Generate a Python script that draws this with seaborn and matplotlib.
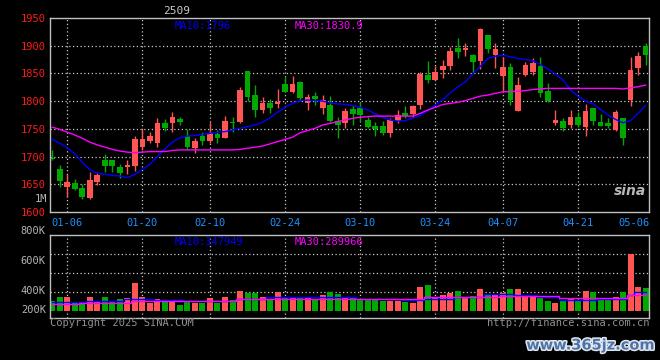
import pandas as pd
import seaborn as sns
import matplotlib.pyplot as plt
import matplotlib.patheffects as pe

# daily K line, 80 sessions (2025-01-02 .. 2025-05-07)
opens = [1698, 1677, 1645, 1652, 1643, 1625, 1655, 1693, 1693, 1682,
         1681, 1683, 1717, 1728, 1725, 1761, 1761, 1768, 1737, 1716,
         1737, 1728, 1740, 1733, 1763, 1762, 1854, 1811, 1784, 1796,
         1794, 1831, 1817, 1835, 1796, 1809, 1788, 1793, 1764, 1760,
         1785, 1788, 1766, 1756, 1755, 1742, 1764, 1779, 1777, 1793,
         1848, 1839, 1856, 1864, 1896, 1892, 1884, 1873, 1919, 1883,
         1845, 1862, 1783, 1847, 1853, 1864, 1818, 1760, 1764, 1757,
         1772, 1754, 1788, 1762, 1760, 1748, 1769, 1802, 1860, 1899]
highs = [1711, 1685, 1669, 1659, 1651, 1673, 1672, 1704, 1693, 1686,
         1693, 1738, 1749, 1744, 1769, 1768, 1780, 1772, 1750, 1733,
         1745, 1762, 1748, 1774, 1772, 1826, 1854, 1829, 1808, 1804,
         1822, 1844, 1846, 1836, 1812, 1816, 1811, 1809, 1772, 1788,
         1793, 1798, 1772, 1762, 1764, 1770, 1784, 1792, 1793, 1853,
         1872, 1863, 1874, 1898, 1914, 1904, 1885, 1932, 1920, 1904,
         1880, 1869, 1844, 1871, 1878, 1880, 1832, 1784, 1769, 1784,
         1781, 1794, 1788, 1777, 1769, 1784, 1770, 1880, 1888, 1904]
lows = [1693, 1645, 1627, 1639, 1623, 1624, 1649, 1673, 1672, 1662,
        1669, 1674, 1711, 1725, 1717, 1747, 1744, 1757, 1712, 1706,
        1720, 1724, 1725, 1733, 1745, 1760, 1801, 1772, 1778, 1779,
        1787, 1816, 1814, 1801, 1784, 1793, 1777, 1763, 1734, 1752,
        1757, 1764, 1751, 1738, 1739, 1736, 1760, 1769, 1772, 1786,
        1832, 1839, 1842, 1856, 1877, 1882, 1850, 1858, 1886, 1859,
        1818, 1793, 1783, 1845, 1848, 1808, 1799, 1757, 1746, 1751,
        1754, 1738, 1757, 1755, 1751, 1746, 1721, 1792, 1847, 1866]
closes = [1695, 1656, 1655, 1642, 1627, 1657, 1666, 1683, 1683, 1671,
          1684, 1731, 1732, 1737, 1761, 1751, 1772, 1763, 1717, 1728,
          1728, 1742, 1734, 1764, 1761, 1820, 1808, 1784, 1797, 1788,
          1799, 1817, 1831, 1806, 1808, 1803, 1802, 1764, 1757, 1782,
          1777, 1775, 1754, 1750, 1743, 1766, 1775, 1773, 1792, 1849,
          1839, 1853, 1863, 1891, 1889, 1895, 1871, 1930, 1894, 1894,
          1862, 1802, 1829, 1865, 1869, 1814, 1800, 1766, 1752, 1772,
          1757, 1782, 1764, 1756, 1755, 1780, 1733, 1856, 1881, 1884]
ma10 = [1731, 1724, 1716, 1705, 1690, 1676, 1670, 1668, 1666, 1665,
        1662, 1668, 1677, 1686, 1700, 1714, 1726, 1734, 1737, 1738,
        1740, 1742, 1744, 1745, 1748, 1751, 1754, 1757, 1762, 1770,
        1780, 1789, 1796, 1801, 1802, 1801, 1800, 1797, 1795, 1794,
        1792, 1789, 1784, 1777, 1771, 1766, 1764, 1765, 1769, 1774,
        1783, 1793, 1803, 1815, 1826, 1835, 1849, 1863, 1877, 1881,
        1883, 1880, 1877, 1875, 1873, 1866, 1858, 1849, 1838, 1820,
        1809, 1800, 1795, 1785, 1775, 1767, 1761, 1765, 1778, 1792]
ma30 = [1753, 1749, 1744, 1739, 1733, 1726, 1721, 1717, 1713, 1710,
        1708, 1707, 1708, 1709, 1709, 1709, 1711, 1712, 1712, 1712,
        1712, 1712, 1712, 1712, 1712, 1713, 1715, 1717, 1719, 1723,
        1727, 1731, 1735, 1743, 1747, 1751, 1757, 1760, 1763, 1766,
        1769, 1771, 1772, 1773, 1773, 1773, 1773, 1773, 1773, 1778,
        1784, 1789, 1794, 1796, 1798, 1801, 1805, 1809, 1811, 1814,
        1817, 1817, 1818, 1819, 1821, 1822, 1823, 1823, 1823, 1823,
        1823, 1823, 1823, 1823, 1823, 1823, 1822, 1824, 1826, 1829]

# volume (K), as drawn on the chart's own scale
vols = [108, 152, 152, 87, 87, 152, 98, 152, 108, 129,
        138, 300, 152, 87, 132, 101, 104, 66, 110, 84,
        92, 138, 92, 150, 116, 214, 195, 195, 146, 129,
        206, 143, 143, 140, 143, 122, 171, 206, 183, 154,
        136, 125, 118, 118, 108, 108, 108, 101, 90, 251,
        276, 153, 171, 195, 213, 153, 160, 234, 181, 171,
        195, 234, 234, 153, 146, 146, 108, 90, 108, 125,
        118, 213, 202, 125, 125, 146, 202, 600, 258, 240]
vol_ma10 = [101, 101, 101, 101, 101, 108, 108, 108, 108, 108,
            125, 125, 125, 125, 122, 122, 122, 122, 108, 108,
            108, 108, 108, 108, 108, 125, 125, 125, 125, 146,
            146, 146, 146, 146, 146, 146, 146, 146, 146, 146,
            146, 129, 129, 129, 129, 129, 129, 118, 118, 118,
            129, 129, 129, 129, 153, 153, 153, 153, 181, 181,
            181, 181, 171, 171, 171, 153, 153, 153, 118, 118,
            118, 118, 118, 125, 125, 125, 125, 171, 206, 206]
vol_ma30 = [73, 73, 73, 73, 90, 90, 90, 90, 90, 90,
            90, 108, 108, 108, 108, 108, 108, 108, 108, 108,
            108, 108, 108, 108, 108, 125, 125, 125, 125, 125,
            125, 125, 125, 133, 133, 133, 133, 130, 130, 130,
            130, 130, 130, 130, 130, 130, 130, 130, 130, 130,
            146, 146, 146, 146, 146, 146, 146, 146, 146, 146,
            160, 160, 160, 160, 160, 160, 160, 160, 143, 143,
            143, 143, 143, 143, 143, 143, 143, 171, 171, 171]

date_pos = [2, 12, 21, 31, 41, 51, 60, 70]
date_labels = ['01-06', '01-20', '02-10', '02-24', '03-10', '03-24', '04-07', '04-21']

RED = '#ff5555'
GREEN = '#00a800'
GRID = '#c8c8c8'
FRAME = '#c0c0c0'

df = pd.DataFrame({'open': opens, 'high': highs, 'low': lows, 'close': closes,
                   'ma10': ma10, 'ma30': ma30, 'vol': vols,
                   'vma10': vol_ma10, 'vma30': vol_ma30})
df['idx'] = range(len(df))
df['dir'] = ['up' if c >= o else 'down' for o, c in zip(df['open'], df['close'])]
colors = [RED if d == 'up' else GREEN for d in df['dir']]

plt.rcParams['font.family'] = 'DejaVu Sans Mono'
plt.rcParams['font.size'] = 7

fig = plt.figure(figsize=(6.6, 3.6), dpi=100, facecolor='black')
ax = fig.add_axes([50 / 660, 1 - 212 / 360, 599 / 660, 194 / 360])
ax2 = fig.add_axes([50 / 660, 1 - 318 / 360, 599 / 660, 83 / 360])

dots = (0, (1, 2))
for a in (ax, ax2):
    a.set_facecolor('black')
    for s in a.spines.values():
        s.set_color(FRAME)
        s.set_linewidth(1)
    for p in date_pos:
        a.axvline(p, color=GRID, lw=0.9, ls=dots, zorder=0.5)

# --- price panel ---
for y in range(1650, 1950, 50):
    ax.axhline(y, color=GRID, lw=0.9, ls=dots, zorder=0.5)

ax.vlines(df['idx'], df['low'], df['high'], colors=colors, lw=1, zorder=2)
body_lo = df[['open', 'close']].min(axis=1)
body_h = (df['close'] - df['open']).abs().clip(lower=1.5)
ax.bar(df['idx'], body_h, bottom=body_lo, width=0.76, color=colors, lw=0, zorder=2.5)

sns.lineplot(data=df, x='idx', y='ma10', ax=ax, color='#0000ff', lw=1, zorder=3)
sns.lineplot(data=df, x='idx', y='ma30', ax=ax, color='#ff00ff', lw=1, zorder=3)

ax.set_xlim(-0.3, 79.45)
ax.set_ylim(1600, 1950)
ax.set_yticks(range(1600, 2000, 50))
ax.set_xticks(date_pos + [77.5])
ax.set_xticklabels(date_labels + ['05-06'])
ax.tick_params(axis='y', length=0, pad=3, labelcolor='#ff1a1a', labelsize=7.5)
ax.tick_params(axis='x', length=0, pad=4, labelcolor='#1e90ff', labelsize=7.5)
ax.set_xlabel('')
ax.set_ylabel('')

ax.text(0.208, 0.985, 'MA10:1796', transform=ax.transAxes, color='#0000ff',
        fontsize=7.5, va='top', ha='left')
ax.text(0.409, 0.985, 'MA30:1830.9', transform=ax.transAxes, color='#ff00ff',
        fontsize=7.5, va='top', ha='left')
ax.text(0.995, 0.07, 'sina', transform=ax.transAxes, color='#b8b8b8',
        fontsize=10, fontweight='bold', style='italic', family='DejaVu Sans',
        ha='right', va='bottom')

# --- volume panel ---
sns.barplot(data=df, x='idx', y='vol', hue='dir', palette={'up': RED, 'down': GREEN},
            dodge=False, native_scale=True, width=0.8, errorbar=None,
            saturation=1, legend=False, ax=ax2, zorder=2, linewidth=0)
sns.lineplot(data=df, x='idx', y='vma10', ax=ax2, color='#0000ff', lw=1,
             drawstyle='steps-mid', zorder=3)
sns.lineplot(data=df, x='idx', y='vma30', ax=ax2, color='#ff00ff', lw=1,
             drawstyle='steps-mid', zorder=3)
for y in (200, 400, 600):
    ax2.axhline(y, color=GRID, lw=0.9, ls=dots, zorder=0.5)

ax2.set_xlim(-0.3, 79.45)
ax2.set_ylim(-70, 800)
ax2.set_xticks([])
ax2.set_yticks([])
ax2.set_xlabel('')
ax2.set_ylabel('')

for lab, fy in [('800K', 1.052), ('600K', 0.684), ('400K', 0.329), ('200K', 0.096)]:
    ax2.text(-0.007, fy, lab, transform=ax2.transAxes, color='#b4b4b4',
             fontsize=7.5, ha='right', va='center')

ax2.text(0.208, 0.97, 'MA10:347949', transform=ax2.transAxes, color='#0000ff',
         fontsize=7.5, va='top', ha='left')
ax2.text(0.409, 0.97, 'MA30:289966', transform=ax2.transAxes, color='#ff00ff',
         fontsize=7.5, va='top', ha='left')

# --- loose texts ---
fig.text(177 / 660, 1 - 10.5 / 360, '2509', color='#c8c8c8', fontsize=8,
         ha='center', va='center')
fig.text(47 / 660, 1 - 199.5 / 360, '1M', color='#b4b4b4', fontsize=7.5,
         ha='right', va='center')
fig.text(50 / 660, 1 - 323 / 360, 'Copyright 2025 SINA.COM', color='#909090',
         fontsize=7.5, ha='left', va='center')
fig.text(649 / 660, 1 - 323 / 360, 'http://finance.sina.com.cn', color='#909090',
         fontsize=7.5, ha='right', va='center')
wm = fig.text(655 / 660, 1 - 345 / 360, 'www.365jz.com', color='#4f73a8',
              fontsize=10.5, fontweight='bold', family='DejaVu Sans',
              ha='right', va='center')
wm.set_path_effects([pe.withStroke(linewidth=2.2, foreground='#dfe6ef')])

fig.savefig('out.png', dpi=100, facecolor='black')
